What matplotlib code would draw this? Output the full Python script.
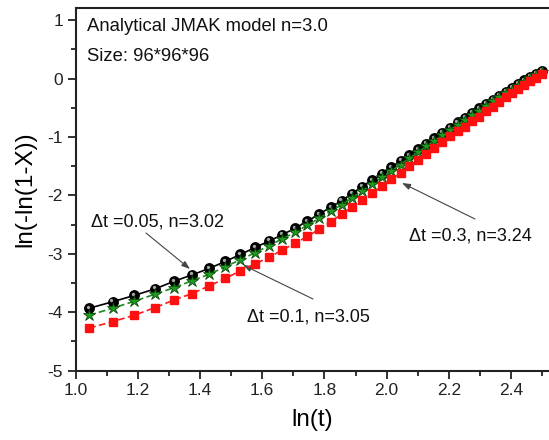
import matplotlib
matplotlib.use("Agg")
import matplotlib.pyplot as plt
import matplotlib.transforms as mtransforms
from matplotlib.ticker import MultipleLocator

plt.rcParams['font.family'] = ['Liberation Sans', 'DejaVu Sans']
plt.rcParams['axes.unicode_minus'] = False

# ln(t) sample positions (shared by all three series)
ln_t = [1.044, 1.119, 1.189, 1.255, 1.316, 1.374, 1.429, 1.481, 1.530, 1.577,
        1.622, 1.665, 1.706, 1.745, 1.783, 1.820, 1.855, 1.889, 1.922, 1.954,
        1.985, 2.015, 2.045, 2.073, 2.101, 2.127, 2.153, 2.179, 2.204, 2.228,
        2.252, 2.275, 2.297, 2.319, 2.341, 2.362, 2.383, 2.403, 2.423, 2.443,
        2.462, 2.480, 2.499]

# Analytical JMAK, n = 3.0
jmak = [-3.93, -3.82, -3.71, -3.60, -3.47, -3.36, -3.25, -3.13, -3.01, -2.89,
        -2.78, -2.67, -2.56, -2.44, -2.32, -2.20, -2.09, -1.97, -1.85, -1.74,
        -1.63, -1.52, -1.41, -1.31, -1.21, -1.11, -1.02, -0.93, -0.84, -0.75,
        -0.67, -0.59, -0.51, -0.43, -0.36, -0.29, -0.22, -0.16, -0.09, -0.03,
        0.03, 0.08, 0.13]

# Simulation, dt = 0.05
dt005 = [-4.05, -3.93, -3.81, -3.69, -3.58, -3.46, -3.35, -3.22, -3.10, -2.98,
         -2.86, -2.74, -2.63, -2.51, -2.39, -2.27, -2.16, -2.04, -1.92, -1.80,
         -1.69, -1.58, -1.47, -1.36, -1.26, -1.16, -1.07, -0.97, -0.88, -0.79,
         -0.71, -0.63, -0.55, -0.47, -0.39, -0.32, -0.25, -0.19, -0.12, -0.06,
         0.01, 0.06, 0.11]

# Simulation, dt = 0.3
dt03 = [-4.27, -4.16, -4.05, -3.92, -3.79, -3.68, -3.55, -3.42, -3.29, -3.17,
        -3.06, -2.93, -2.82, -2.70, -2.58, -2.45, -2.32, -2.20, -2.08, -1.96,
        -1.84, -1.72, -1.62, -1.50, -1.39, -1.29, -1.19, -1.09, -0.99, -0.90,
        -0.82, -0.73, -0.65, -0.56, -0.48, -0.40, -0.32, -0.25, -0.18, -0.11,
        -0.04, 0.02, 0.08]

fig = plt.figure(figsize=(5.49, 4.40), dpi=100)
ax = fig.add_axes([0.1377, 0.1575, 0.8623, 0.8243])

ax.plot(ln_t, jmak, color='black', lw=1.2, ls='-', marker='o', ms=6.8,
        mfc='black', mec='black', zorder=3)
# highlight on the spheres
hl = mtransforms.offset_copy(ax.transData, fig=fig, x=-0.8, y=1.2, units='points')
ax.plot(ln_t, jmak, ls='none', marker='o', ms=2.4, mfc='#a8a8a8', mec='none',
        transform=hl, zorder=3.1)
ax.plot(ln_t, dt005, color='#1a8a1a', lw=1.2, ls=(0, (4, 2)), marker='*', ms=9,
        mfc='#1f9a1f', mec='#0a4a0a', mew=0.6, zorder=4)
ax.plot(ln_t, dt03, color='#ff1a1a', lw=1.2, ls=(0, (4, 2)), marker='s', ms=6.4,
        mfc='#ff1010', mec='#ff1010', zorder=5)

ax.set_xlim(1.0, 2.522)
ax.set_ylim(-5, 1.21)
ax.xaxis.set_major_locator(MultipleLocator(0.2))
ax.xaxis.set_minor_locator(MultipleLocator(0.1))
ax.yaxis.set_major_locator(MultipleLocator(1))
ax.yaxis.set_minor_locator(MultipleLocator(0.5))
ax.tick_params(which='both', direction='out', width=1.3, labelsize=12.5,
               top=False, right=False, colors='#222222')
ax.tick_params(which='major', length=6, pad=3)
ax.tick_params(which='minor', length=3.5)
for s in ('left', 'bottom', 'top'):
    ax.spines[s].set_linewidth(1.5)
    ax.spines[s].set_color('#222222')
ax.spines['right'].set_visible(False)

ax.set_xlabel('ln(t)', fontsize=17.5, labelpad=8)
ax.set_ylabel('ln(-ln(1-X))', fontsize=17.5, labelpad=8)


def px2data(px, py):
    return ax.transData.inverted().transform(
        fig.transFigure.transform((px / 549, 1 - py / 440)))


ax.text(*px2data(87, 27), 'Analytical JMAK model n=3.0', fontsize=13.3,
        va='center', ha='left', color='#111111')
ax.text(*px2data(87, 57), 'Size: 96*96*96', fontsize=13.3,
        va='center', ha='left', color='#111111')

arrow = dict(arrowstyle='-|>,head_length=0.5,head_width=0.18', color='#444444',
             lw=0.8, shrinkA=0, shrinkB=0)

# (label, label centre, arrow tail, arrow head) in figure pixels
notes = [
    ('Δt =0.05, n=3.02', (157, 222), (146, 233), (190, 269)),
    ('Δt =0.1, n=3.05', (308, 317), (313, 299), (243, 265)),
    ('Δt =0.3, n=3.24', (470, 236), (475, 219), (402, 183)),
]
for label, c, tail, head in notes:
    ax.text(*px2data(*c), label, fontsize=13, ha='center', va='center',
            color='#111111')
    ax.annotate('', xy=px2data(*head), xytext=px2data(*tail), arrowprops=arrow)

fig.savefig('out.png', dpi=100)
